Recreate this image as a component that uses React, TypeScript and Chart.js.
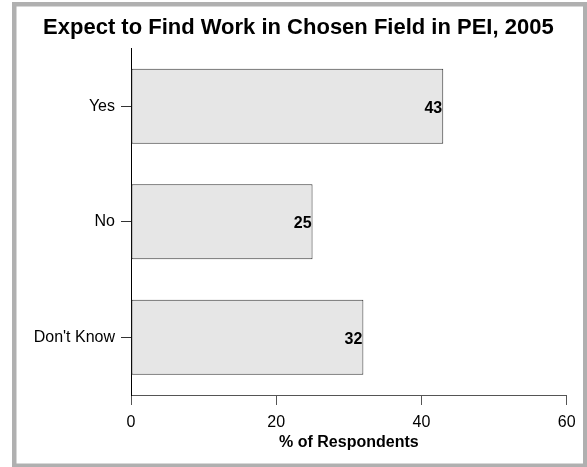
import React, { useEffect, useRef } from "react";
import { Chart, registerables } from "chart.js";

Chart.register(...registerables);

const titleText = "Expect to Find Work in Chosen Field in PEI, 2005";
const xAxisTitle = "% of Respondents";
const categories = ["Yes", "No", "Don't Know"];
const percents = [43, 25, 32];
const xMin = 0;
const xMax = 60;
const xStep = 20;

const FONT = "'Liberation Sans', Arial, Helvetica, sans-serif";

const framePlugin = {
  id: "frame",
  afterDraw(chart: any) {
    const ctx = chart.ctx;
    const w = chart.width;
    const h = chart.height;
    ctx.save();
    ctx.strokeStyle = "#b0b0b0";
    ctx.lineWidth = 4.5;
    ctx.strokeRect(12 + 2.25, 2 + 2.25, w - 12 - 4.5 + 0.5, h - 2 - 4.5 + 1);
    ctx.restore();
  },
};

const barLabelPlugin = {
  id: "barLabels",
  afterDatasetsDraw(chart: any) {
    const ctx = chart.ctx;
    const meta = chart.getDatasetMeta(0);
    ctx.save();
    ctx.font = `bold 16px ${FONT}`;
    ctx.fillStyle = "#000";
    ctx.textAlign = "right";
    ctx.textBaseline = "middle";
    meta.data.forEach((el: any, i: number) => {
      ctx.fillText(String(percents[i]), el.x - 1, el.y + 2);
    });
    ctx.restore();
  },
};

export default function App() {
  const ref = useRef<HTMLCanvasElement>(null);
  useEffect(() => {
    if (!ref.current) return;
    Chart.defaults.font.family = FONT;
    Chart.defaults.color = "#000";
    const chart = new Chart(ref.current, {
      type: "bar",
      data: {
        labels: categories,
        datasets: [
          {
            data: percents,
            backgroundColor: "#e6e6e6",
            borderColor: "#333333",
            borderWidth: 1,
            borderSkipped: false,
            barPercentage: 0.65,
            categoryPercentage: 1,
          },
        ],
      },
      options: {
        indexAxis: "y",
        animation: false,
        responsive: false,
        maintainAspectRatio: false,
        layout: { padding: { left: 30, right: 20.3, top: 0, bottom: 0 } },
        plugins: {
          legend: { display: false },
          tooltip: { enabled: false },
          title: {
            display: true,
            text: titleText,
            color: "#000",
            font: { size: 22, weight: "bold", family: FONT },
            padding: { top: 14.6, bottom: 7.6 },
          },
        },
        scales: {
          x: {
            type: "linear",
            min: xMin,
            max: xMax,
            ticks: { stepSize: xStep, padding: 8, font: { size: 16 }, color: "#000" },
            grid: { drawOnChartArea: false, drawTicks: true, tickLength: 10, tickColor: "#555", tickWidth: 1 },
            border: { display: true, color: "#555", width: 1 },
            title: {
              display: true,
              text: xAxisTitle,
              font: { size: 16, weight: "bold" },
              color: "#000",
              padding: { top: 0, bottom: 14.7 },
            },
            afterFit(scale: any) {
              scale.height = 72;
            },
          },
          y: {
            type: "category",
            offset: true,
            ticks: { padding: 6, font: { size: 16 }, color: "#000" },
            grid: { drawOnChartArea: false, drawTicks: true, tickLength: 10, tickColor: "#333", tickWidth: 1, offset: false },
            border: { display: true, color: "#000", width: 1 },
            afterFit(scale: any) {
              scale.width = 101;
            },
          },
        },
      },
      plugins: [framePlugin, barLabelPlugin],
    });
    return () => chart.destroy();
  }, []);

  return (
    <div style={{ position: "fixed", left: 0, top: 0, width: 587, height: 467, background: "#fff", overflow: "hidden" }}>
      <canvas ref={ref} width={587} height={467} style={{ position: "absolute", left: 0, top: 0, display: "block" }} />
    </div>
  );
}
